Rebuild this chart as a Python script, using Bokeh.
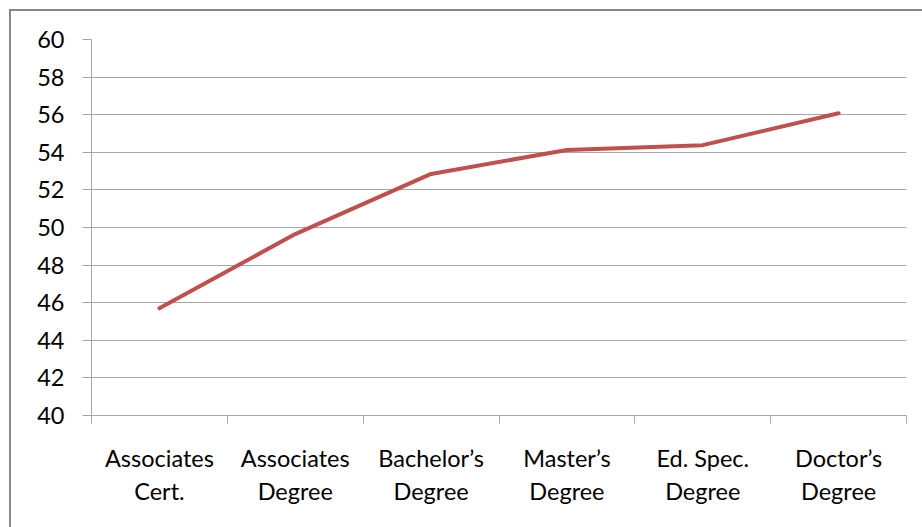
from bokeh.plotting import figure
from bokeh.models import Range1d, FixedTicker, ColumnDataSource
from bokeh.embed import file_html
from bokeh.resources import INLINE

categories = ["Associates\nCert.", "Associates\nDegree", "Bachelor\u2019s\nDegree",
              "Master\u2019s\nDegree", "Ed. Spec.\nDegree", "Doctor\u2019s\nDegree"]
values = [45.7, 49.65, 52.85, 54.12, 54.38, 56.08]
y_ticks = [40, 42, 44, 46, 48, 50, 52, 54, 56, 58, 60]

positions = [i + 0.5 for i in range(len(categories))]
boundaries = list(range(len(categories) + 1))

border_css = ("linear-gradient(#868686,#868686) 9px 9px / 2px 100% no-repeat, "
              "linear-gradient(#868686,#868686) 9px 9px / 100% 2px no-repeat, white")

p = figure(width=922, height=527, output_backend="svg", toolbar_location=None,
           x_range=Range1d(0, len(categories)), y_range=Range1d(40, 60),
           min_border_left=91, min_border_right=16, min_border_top=39, min_border_bottom=112,
           styles={"background": border_css})
p.background_fill_color = "white"
p.border_fill_alpha = 0
p.outline_line_color = None

src = ColumnDataSource(dict(x=positions, y=values))
p.line("x", "y", source=src, line_color="#C0504D", line_width=4, line_cap="round", line_join="round")

grid_col = "#A6A6A6"
font = "Lato"
txt_col = "#000000"

# x axis
xa = p.xaxis[0]
xa.ticker = FixedTicker(ticks=positions, minor_ticks=boundaries)
xa.major_label_overrides = {p_: c for p_, c in zip(positions, categories)}
xa.major_tick_out = 0
xa.major_tick_in = 0
xa.minor_tick_out = 8
xa.minor_tick_in = 0
xa.minor_tick_line_color = grid_col
xa.axis_line_color = grid_col
xa.major_label_text_font = font
xa.major_label_text_font_size = "23.5px"
xa.major_label_text_color = txt_col
xa.major_label_text_line_height = 1.2
xa.major_label_standoff = 20

# y axis
ya = p.yaxis[0]
ya.ticker = FixedTicker(ticks=y_ticks)
ya.major_tick_out = 9
ya.major_tick_in = 0
ya.minor_tick_line_color = None
ya.major_tick_line_color = grid_col
ya.axis_line_color = grid_col
ya.major_label_text_font = font
ya.major_label_text_font_size = "23.5px"
ya.major_label_text_color = txt_col
ya.major_label_standoff = 18

p.xgrid.visible = False
p.ygrid.ticker = FixedTicker(ticks=y_ticks)
p.ygrid.grid_line_color = grid_col
p.ygrid.grid_line_width = 1

open("out.html", "w").write(file_html(p, INLINE))
